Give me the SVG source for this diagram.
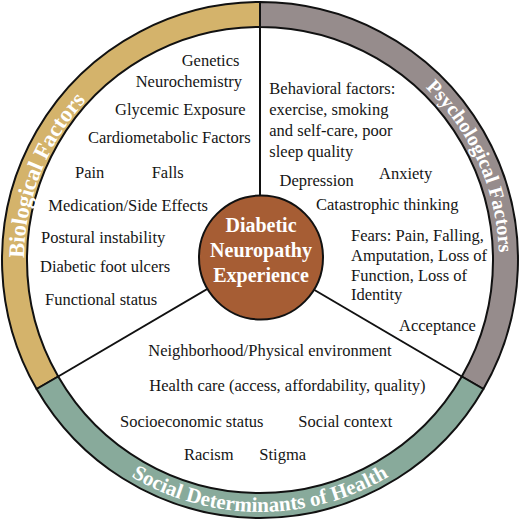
<svg xmlns="http://www.w3.org/2000/svg" width="520" height="520" viewBox="0 0 520 520">
<defs>
<style>
.ring{stroke:#111;stroke-width:2;stroke-linejoin:round}
.bio{fill:#D4B36B}
.psy{fill:#968C8C}
.sdh{fill:#88AA9B}
.lbl{font-family:"Liberation Serif","Times New Roman",serif;font-weight:bold;fill:#fff}
.t{font-family:"Liberation Serif","Times New Roman",serif;font-size:16.5px;fill:#151515}
.ctr{font-family:"Liberation Serif","Times New Roman",serif;font-weight:bold;font-size:20px;fill:#fff;text-anchor:middle}
.div{stroke:#111;stroke-width:2;fill:none}
</style>
<path id="arcBio" d="M 52.6 372.6 A 236 236 0 0 1 185.1 36.2"/>
<path id="arcPsy" d="M 325.9 30.3 A 239 239 0 0 1 474.8 364.8"/>
<path id="arcSdh" d="M 41.8 386 A 252 252 0 0 0 478.2 386"/>
</defs>
<rect width="520" height="520" fill="#fff"/>
<g id="ring">
<path class="ring bio" d="M 36.6 389 A 258 258 0 0 1 260 2 L 260 27 A 233 233 0 0 0 58.2 376.5 Z"/>
<path class="ring psy" d="M 260 2 A 258 258 0 0 1 483.4 389 L 461.8 376.5 A 233 233 0 0 0 260 27 Z"/>
<path class="ring sdh" d="M 483.4 389 A 258 258 0 0 1 36.6 389 L 58.2 376.5 A 233 233 0 0 0 461.8 376.5 Z"/>
</g>
<g id="connectors">
<line class="div" x1="260" y1="27" x2="260" y2="258"/>
<line class="div" x1="58.2" y1="376.5" x2="260" y2="258"/>
<line class="div" x1="461.8" y1="376.5" x2="260" y2="258"/>
</g>
<g id="biological">
<text class="lbl" font-size="22.5"><textPath href="#arcBio" startOffset="50%" text-anchor="middle">Biological Factors</textPath></text>
<text class="t" x="181.7" y="66">Genetics</text>
<text class="t" x="135.7" y="87">Neurochemistry</text>
<text class="t" x="115" y="115">Glycemic Exposure</text>
<text class="t" x="88" y="142.5">Cardiometabolic Factors</text>
<text class="t" x="75" y="177.5">Pain</text>
<text class="t" x="151.7" y="177.5">Falls</text>
<text class="t" x="48.3" y="211">Medication/Side Effects</text>
<text class="t" x="41" y="242.5">Postural instability</text>
<text class="t" x="40" y="271.5">Diabetic foot ulcers</text>
<text class="t" x="45" y="305">Functional status</text>
</g>
<g id="psychological">
<text class="lbl" font-size="20"><textPath href="#arcPsy" startOffset="50%" text-anchor="middle">Psychological Factors</textPath></text>
<text class="t" x="269.3" y="94">Behavioral factors:</text>
<text class="t" x="269.3" y="115">exercise, smoking</text>
<text class="t" x="269.3" y="136">and self-care, poor</text>
<text class="t" x="269.3" y="157">sleep quality</text>
<text class="t" x="279.5" y="185.5">Depression</text>
<text class="t" x="379" y="179">Anxiety</text>
<text class="t" x="316" y="209.5">Catastrophic thinking</text>
<text class="t" x="351" y="241">Fears: Pain, Falling,</text>
<text class="t" x="351" y="261">Amputation, Loss of</text>
<text class="t" x="351" y="281">Function, Loss of</text>
<text class="t" x="351" y="300">Identity</text>
<text class="t" x="399" y="330.5">Acceptance</text>
</g>
<g id="social">
<text class="lbl" font-size="21"><textPath href="#arcSdh" startOffset="50%" text-anchor="middle">Social Determinants of Health</textPath></text>
<text class="t" x="148.3" y="356">Neighborhood/Physical environment</text>
<text class="t" x="149.3" y="391">Health care (access, affordability, quality)</text>
<text class="t" x="120" y="426.5">Socioeconomic status</text>
<text class="t" x="298.3" y="426.5">Social context</text>
<text class="t" x="184" y="459.5">Racism</text>
<text class="t" x="259.3" y="459.5">Stigma</text>
</g>
<g id="center">
<circle cx="261" cy="257.5" r="62" fill="#A65D34" stroke="#111" stroke-width="2"/>
<text class="ctr" x="261" y="232">Diabetic</text>
<text class="ctr" x="261" y="257">Neuropathy</text>
<text class="ctr" x="261" y="282">Experience</text>
</g>
</svg>
